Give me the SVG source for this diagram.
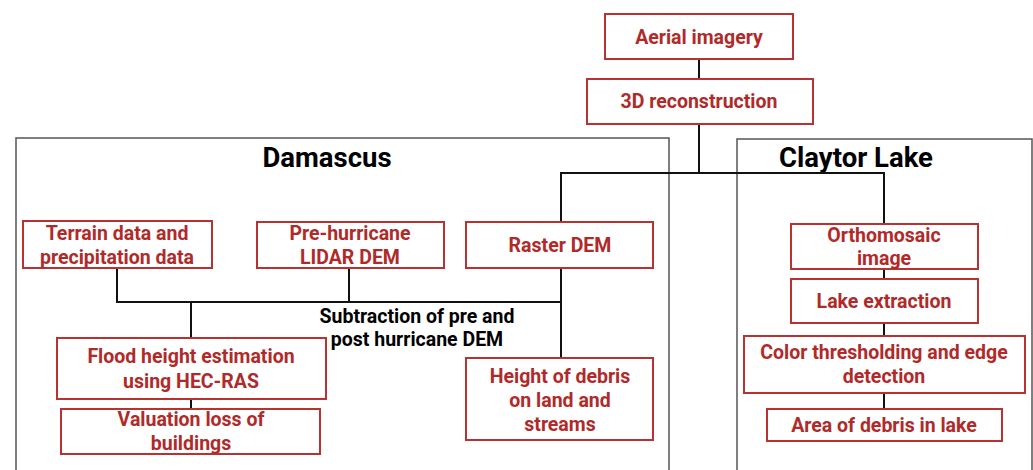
<svg xmlns="http://www.w3.org/2000/svg" width="1033" height="470" viewBox="0 0 1033 470">
<style>
.frame{fill:none;stroke:#555;stroke-width:1.5}
.node rect{fill:#fff;stroke:#b83232;stroke-width:2}
.node text{font-family:Roboto,"Liberation Sans",sans-serif;font-weight:bold;font-size:19.5px;fill:#b02a2a;text-anchor:middle}
.title{font-family:Roboto,"Liberation Sans",sans-serif;font-weight:bold;font-size:27.5px;fill:#000;text-anchor:middle}
.lbl{font-family:Roboto,"Liberation Sans",sans-serif;font-weight:bold;font-size:19.5px;fill:#000;text-anchor:middle}
#connectors path{fill:none;stroke:#111;stroke-width:2}
</style>
<rect width="1033" height="470" fill="#fff"/>
<g id="frames">
<rect class="frame" x="16" y="138" width="653" height="340"/>
<rect class="frame" x="737" y="139" width="295" height="340"/>
<text class="title" x="327" y="167">Damascus</text>
<text class="title" x="856" y="167">Claytor Lake</text>
</g>
<g id="connectors">
<path d="M699 59V79"/>
<path d="M699 124V173H884V224"/>
<path d="M699 173H561V222"/>
<path d="M561 268V358"/>
<path d="M117 268V302H561"/>
<path d="M349 268V302"/>
<path d="M191 302V338"/>
<path d="M191 399V409"/>
<path d="M884 269V279"/>
<path d="M884 323V336"/>
<path d="M884 393V409"/>
</g>
<text class="lbl" x="417" y="323">Subtraction of pre and</text>
<text class="lbl" x="417" y="346">post hurricane DEM</text>
<g id="aerial" class="node"><rect x="605" y="14" width="188" height="45"/><text x="699" y="44">Aerial imagery</text></g>
<g id="recon" class="node"><rect x="587" y="79" width="226" height="45"/><text x="699" y="108">3D reconstruction</text></g>
<g id="terrain" class="node"><rect x="23" y="221" width="189" height="47"/><text x="117" y="240">Terrain data and</text><text x="117" y="264">precipitation data</text></g>
<g id="lidar" class="node"><rect x="257" y="222" width="187" height="46"/><text x="350" y="240">Pre-hurricane</text><text x="350" y="264">LIDAR DEM</text></g>
<g id="raster" class="node"><rect x="466" y="222" width="187" height="46"/><text x="560" y="252">Raster DEM</text></g>
<g id="flood" class="node"><rect x="57" y="338" width="269" height="61"/><text x="191" y="363">Flood height estimation</text><text x="191" y="388">using HEC-RAS</text></g>
<g id="valuation" class="node"><rect x="61" y="409" width="259" height="45"/><text x="191" y="426">Valuation loss of</text><text x="191" y="450">buildings</text></g>
<g id="debris" class="node"><rect x="466" y="358" width="187" height="82"/><text x="560" y="383">Height of debris</text><text x="560" y="407">on land and</text><text x="560" y="431">streams</text></g>
<g id="ortho" class="node"><rect x="791" y="224" width="187" height="45"/><text x="884" y="242">Orthomosaic</text><text x="884" y="265">image</text></g>
<g id="lake" class="node"><rect x="791" y="279" width="187" height="44"/><text x="884" y="308">Lake extraction</text></g>
<g id="color" class="node"><rect x="744" y="336" width="281" height="57"/><text x="884" y="359">Color thresholding and edge</text><text x="884" y="383">detection</text></g>
<g id="area" class="node"><rect x="767" y="409" width="235" height="32"/><text x="884" y="432">Area of debris in lake</text></g>
</svg>
